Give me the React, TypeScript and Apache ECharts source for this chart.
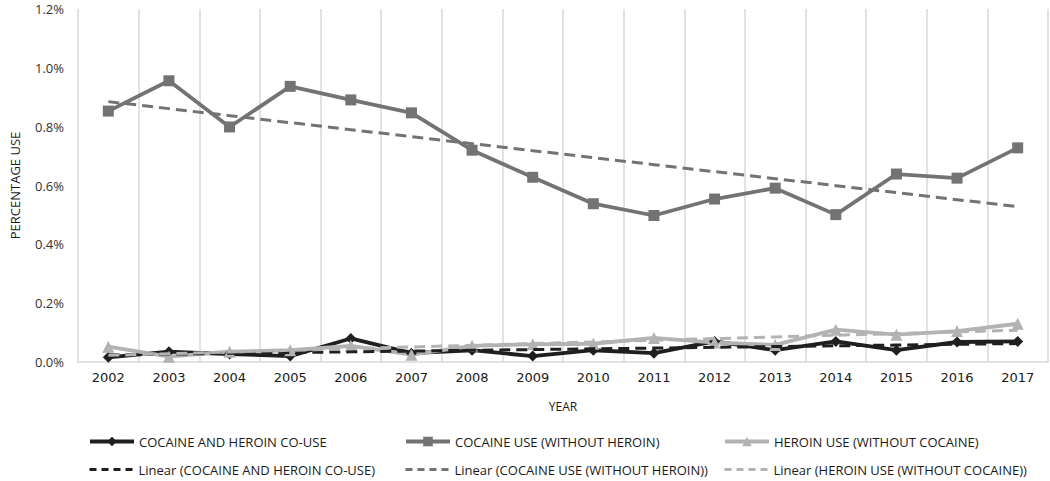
import React, { useEffect, useRef } from "react";
import * as echarts from "echarts";

const years = ["2002","2003","2004","2005","2006","2007","2008","2009","2010","2011","2012","2013","2014","2015","2016","2017"];
const coUse = [0.016, 0.035, 0.027, 0.02, 0.08, 0.03, 0.04, 0.02, 0.04, 0.03, 0.07, 0.04, 0.07, 0.04, 0.068, 0.07];
const cocaineOnly = [0.853, 0.956, 0.799, 0.937, 0.891, 0.847, 0.72, 0.628, 0.538, 0.498, 0.554, 0.591, 0.501, 0.639, 0.625, 0.728];
const heroinOnly = [0.052, 0.018, 0.035, 0.04, 0.055, 0.025, 0.055, 0.06, 0.062, 0.082, 0.066, 0.058, 0.11, 0.093, 0.105, 0.13];
const yTicks = [0, 0.2, 0.4, 0.6, 0.8, 1.0, 1.2];

const NAME_CO = "COCAINE AND HEROIN CO-USE";
const NAME_COC = "COCAINE USE (WITHOUT HEROIN)";
const NAME_HER = "HEROIN USE (WITHOUT COCAINE)";

function linearFit(vals: number[]): number[] {
  const n = vals.length;
  let sx = 0, sy = 0, sxx = 0, sxy = 0;
  vals.forEach((v, i) => { sx += i; sy += v; sxx += i * i; sxy += i * v; });
  const b = (n * sxy - sx * sy) / (n * sxx - sx * sx);
  const a = (sy - b * sx) / n;
  return vals.map((_, i) => +(a + b * i).toFixed(4));
}

const C_BLACK = "#1f1f1f";
const C_MID = "#737373";
const C_LIGHT = "#b3b3b3";
const FONT = "Open Sans";

export default function App() {
  const ref = useRef<HTMLDivElement>(null);
  useEffect(() => {
    if (!ref.current) return;
    const chart = echarts.init(ref.current, undefined, { renderer: "svg" });
    const legendText = { fontFamily: FONT, fontSize: 13, color: "#1a1a1a" };
    const mkLegend = (name: string, color: string, left: number, top: number, trend: boolean) => ({
      show: true,
      data: [name],
      left,
      top,
      itemWidth: 44,
      itemHeight: 12,
      padding: 0,
      textStyle: legendText,
      selectedMode: false,
      itemStyle: trend ? { color, opacity: 0 } : { color },
      lineStyle: trend ? { color, width: 3, type: [7, 5] } : { color, width: 4 },
    });
    const mainLine = (name: string, data: number[], color: string, symbol: string, size: number) => ({
      name,
      type: "line",
      data,
      symbol,
      symbolSize: size,
      lineStyle: { color, width: 3.8 },
      itemStyle: { color },
      z: 2,
    });
    const trendLine = (name: string, data: number[], color: string) => ({
      name,
      type: "line",
      data: linearFit(data),
      symbol: "none",
      lineStyle: { color, width: 3, type: [11, 6] },
      itemStyle: { color },
      z: 3,
    });
    chart.setOption({
      animation: false,
      backgroundColor: "#ffffff",
      grid: { left: 63, right: 2, top: 9, bottom: 119 },
      legend: [
        mkLegend(NAME_CO, C_BLACK, 88, 435, false),
        mkLegend(NAME_COC, C_MID, 404, 435, false),
        mkLegend(NAME_HER, C_LIGHT, 723, 435, false),
        mkLegend("Linear (" + NAME_CO + ")", C_BLACK, 88, 463, true),
        mkLegend("Linear (" + NAME_COC + ")", C_MID, 404, 463, true),
        mkLegend("Linear (" + NAME_HER + ")", C_LIGHT, 723, 463, true),
      ],
      xAxis: {
        type: "category",
        data: years,
        boundaryGap: true,
        name: "YEAR",
        nameLocation: "middle",
        nameGap: 38,
        nameTextStyle: { fontFamily: FONT, fontSize: 12, color: "#1a1a1a" },
        axisTick: { show: false },
        axisLine: { lineStyle: { color: "#d9d9d9", width: 1.5 } },
        splitLine: { show: true, lineStyle: { color: "#d9d9d9", width: 1.5 } },
        axisLabel: { fontFamily: "DejaVu Sans", fontSize: 13, color: "#1a1a1a", margin: 9 },
      },
      yAxis: {
        type: "value",
        min: yTicks[0],
        max: yTicks[yTicks.length - 1],
        interval: 0.2,
        name: "PERCENTAGE USE",
        nameLocation: "middle",
        nameGap: 57,
        nameTextStyle: { fontFamily: FONT, fontSize: 13, color: "#1a1a1a" },
        axisLine: { show: false },
        axisTick: { show: false },
        splitLine: { show: false },
        axisLabel: {
          fontFamily: FONT,
          fontSize: 13,
          color: "#333333",
          margin: 14,
          formatter: (v: number) => v.toFixed(1) + "%",
        },
      },
      series: [
        mainLine(NAME_CO, coUse, C_BLACK, "diamond", 11),
        mainLine(NAME_COC, cocaineOnly, C_MID, "rect", 11),
        mainLine(NAME_HER, heroinOnly, C_LIGHT, "triangle", 12),
        trendLine("Linear (" + NAME_CO + ")", coUse, C_BLACK),
        trendLine("Linear (" + NAME_COC + ")", cocaineOnly, C_MID),
        trendLine("Linear (" + NAME_HER + ")", heroinOnly, C_LIGHT),
      ],
    });
    return () => chart.dispose();
  }, []);
  return (
    <div
      ref={ref}
      style={{ position: "fixed", left: 0, top: 0, width: 1050, height: 481, background: "#fff" }}
    />
  );
}
